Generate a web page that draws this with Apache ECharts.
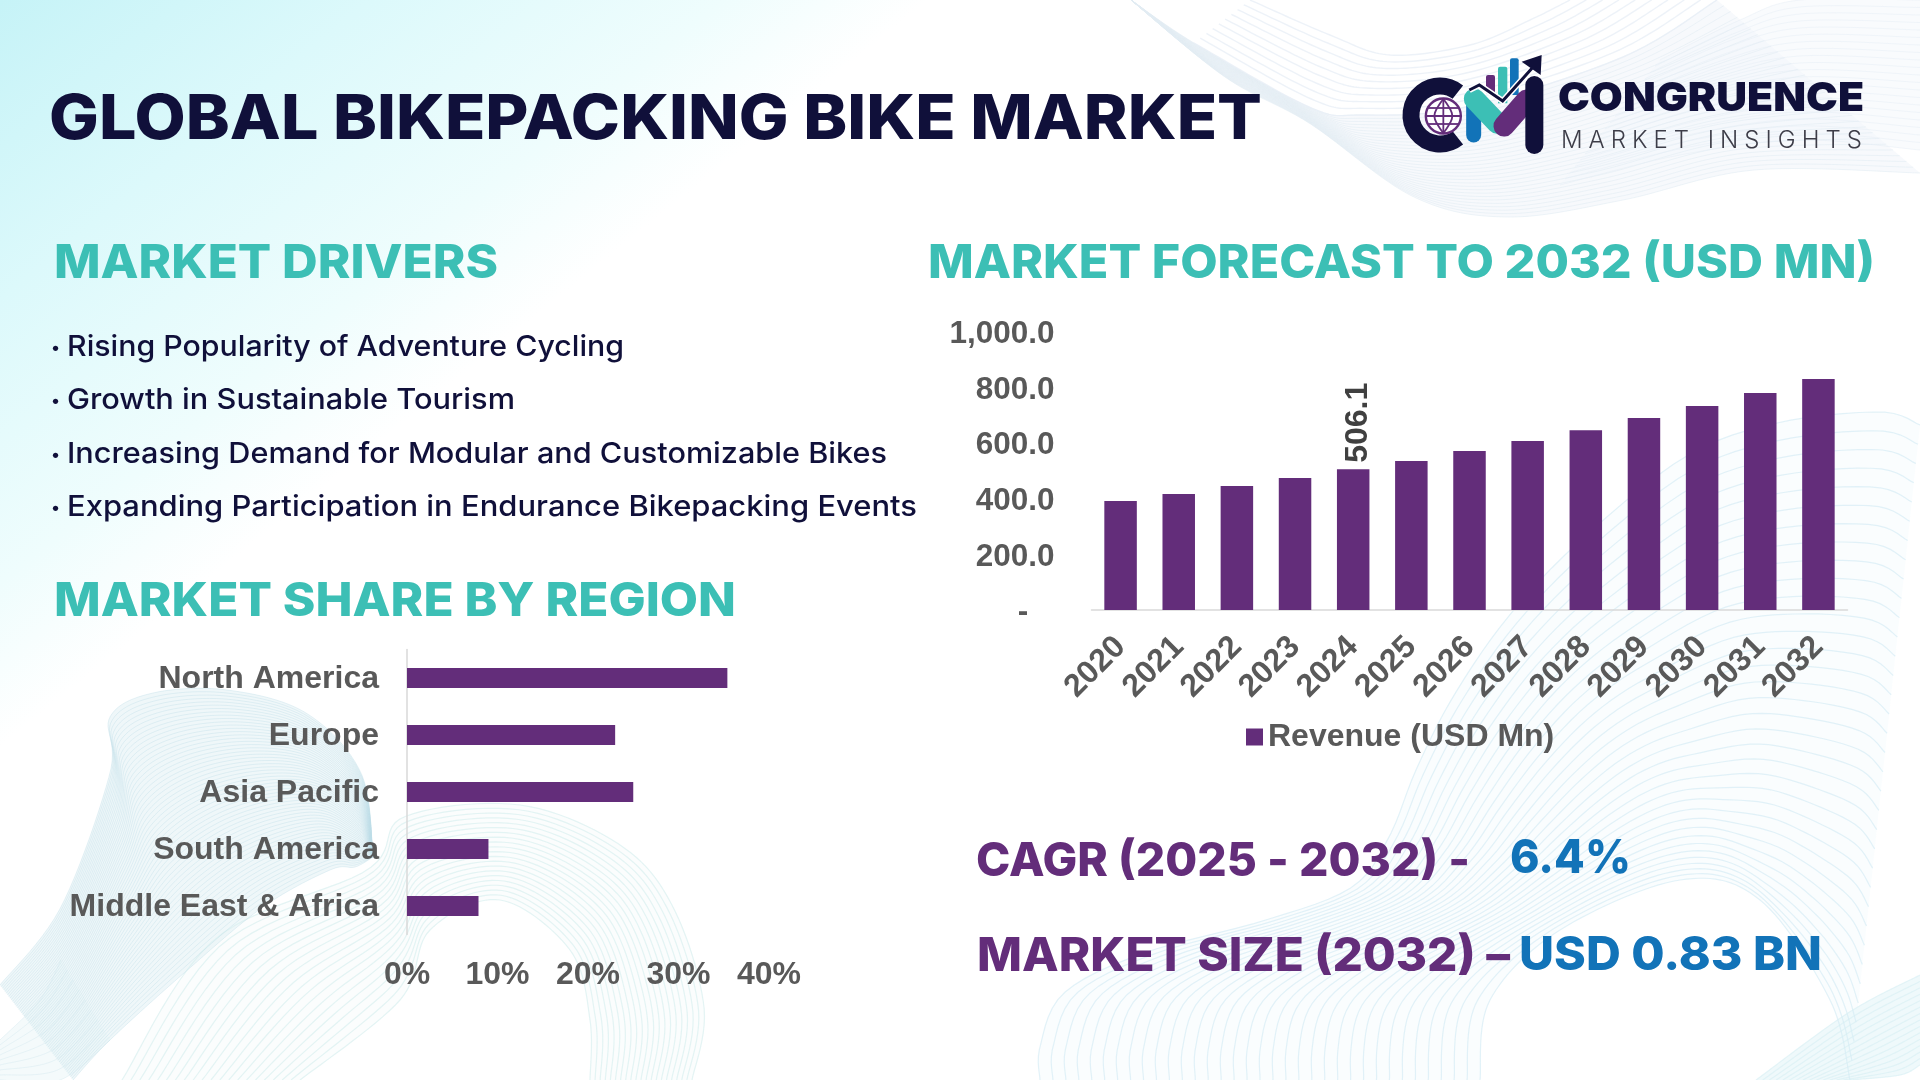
<!DOCTYPE html>
<html><head><meta charset="utf-8">
<style>html,body{margin:0;padding:0;background:#fff}#c{width:1920px;height:1080px;position:absolute;left:0;top:0}
#mi{position:absolute;left:1561px;top:126px;font:300 24px Inter,sans-serif;letter-spacing:6px;color:#3d3d48;white-space:nowrap;line-height:28px}</style>
<script src="https://cdn.jsdelivr.net/npm/echarts@6/dist/echarts.min.js"></script>
</head><body><div id="c"></div><div id="mi">MARKET INSIGHTS</div>
<script>
const years=['2020','2021','2022','2023','2024','2025','2026','2027','2028','2029','2030','2031','2032'];
const revenue=[392,417,446,475,506.1,536,572,608,647,691,734,781,831];
const regions=['North America','Europe','Asia Pacific','South America','Middle East & Africa'];
const shares=[35.4,23,25,9,7.9];
const drivers=['Rising Popularity of Adventure Cycling','Growth in Sustainable Tourism','Increasing Demand for Modular and Customizable Bikes','Expanding Participation in Endurance Bikepacking Events'];

const PURPLE='#632d7a',TEAL='#3cbfb5',BLUE='#1273b8',NAVY='#10103a',GREY='#595959';
const mctx=document.createElement('canvas').getContext('2d');
function T(text,x,y,w,size,weight,fill,family){
  family=family||'Inter';
  mctx.font=weight+' '+size+'px '+family;
  const sx=w?w/mctx.measureText(text).width:1;
  return {type:'text',x:x,y:y,scaleX:sx,z:5,silent:true,style:{text:text,x:0,y:0,fontFamily:family,fontSize:size,fontWeight:weight,fill:fill,align:'left',verticalAlign:'middle'}};
}
/* decoration helpers */
function spline(p,m){
  const out=[],n=p.length-1;
  for(let k=0;k<=m;k++){
    const u=k/m*n,i=Math.min(Math.floor(u),n-1),t=u-i;
    const a=p[Math.max(i-1,0)],b=p[i],c=p[i+1],d=p[Math.min(i+2,n)];
    const f=j=>0.5*((2*b[j])+(-a[j]+c[j])*t+(2*a[j]-5*b[j]+4*c[j]-d[j])*t*t+(-a[j]+3*b[j]-3*c[j]+d[j])*t*t*t);
    out.push([f(0),f(1)]);
  }
  return out;
}
function ribbon(A,B,n,stroke,alpha,lw,fill,fillAlpha){
  const a=spline(A,90),b=spline(B,90),els=[];
  if(fill)els.push({type:'polygon',silent:true,z:-9,shape:{points:a.concat(b.slice().reverse())},style:{fill:fill,opacity:fillAlpha}});
  for(let i=0;i<=n;i++){
    const t=i/n;
    els.push({type:'polyline',silent:true,z:-8,shape:{points:a.map((q,k)=>[q[0]+(b[k][0]-q[0])*t,q[1]+(b[k][1]-q[1])*t])},style:{stroke:stroke,lineWidth:lw,fill:null,opacity:alpha}});
  }
  return els;
}
const deco=[];
deco.push({type:'rect',silent:true,z:-10,shape:{x:0,y:0,width:1920,height:1080},style:{fill:{type:'linear',x:0,y:0,x2:0.19,y2:0.42,colorStops:[{offset:0,color:'#c6f3f7'},{offset:0.4,color:'#dcf9fb'},{offset:0.78,color:'#effdfd'},{offset:1,color:'#ffffff'}]}}});
/* top right */
deco.push(...ribbon([[1131,0],[1194,43],[1309,107],[1361,115],[1466,107],[1623,57],[1717,0]],[[1131,0],[1225,77],[1309,123],[1414,197],[1508,217],[1623,200],[1754,170],[1920,173]],30,'#e3ecf4',0.6,1,'#f3f7fb',0.7));
deco.push(...ribbon([[1194,43],[1309,107],[1361,115],[1466,107],[1623,57],[1717,0]],[[1250,0],[1330,35],[1390,55],[1470,45],[1530,20],[1570,0]],9,'#e8eff6',0.8,1.4));
deco.push(...ribbon([[1560,185],[1680,155],[1800,140],[1920,150]],[[1660,60],[1740,20],[1800,0],[1920,0]],20,'#e6eef5',0.5,1,'#f4f8fb',0.5));
/* bottom right hill */
deco.push(...ribbon([[1040,1080],[1040,1047],[1064,993],[1144,953],[1266,920],[1352,887],[1389,837],[1416,770],[1453,697],[1508,617],[1581,540],[1685,457],[1777,423],[1880,412],[1920,425]],[[1480,1080],[1490,1000],[1560,930],[1680,880],[1760,900],[1830,1000],[1850,1080]],34,'#d2eaf3',0.62,1.2,'#f6fbfd',0.6));
deco.push(...ribbon([[1756,1080],[1848,1013],[1920,975]],[[1850,1080],[1900,1075],[1920,1065]],14,'#d6eef4',0.6,1.2,'#e8f6f9',0.7));
/* bottom left */
deco.push(...ribbon([[122,1080],[214,940],[367,870],[404,817],[520,805],[620,845],[673,907],[704,1007],[692,1080]],[[300,1080],[400,1000],[430,930],[500,900],[570,950],[590,1020],[590,1080]],20,'#d8f0f0',0.7,1.2,'#f7fcfc',0.5));
deco.push(...ribbon([[0,985],[61,907],[110,773],[110,717],[153,693],[227,690],[306,713],[361,773],[373,857]],[[73,1080],[110,1040],[184,973],[263,907],[330,870],[355,867],[373,857]],58,'#bcdde8',0.38,1,'#e0eff4',0.5));
deco.push(...ribbon([[0,1040],[40,1000],[61,960]],[[0,1080],[60,1080],[110,1040]],8,'#cfe6ee',0.4,1,'#eaf5f8',0.5));

/* logo */
const Z=(x,y)=>[1380+x/3,40+y/3];
const seg=(a,b,w,c,cap)=>{const p=Z(a[0],a[1]),q=Z(b[0],b[1]);return {type:'line',silent:true,z:3,shape:{x1:p[0],y1:p[1],x2:q[0],y2:q[1]},style:{stroke:c,lineWidth:w,lineCap:cap||'round'}};};
const bar=(x0,x1,y0,y1,c)=>{const p=Z(x0,y0),q=Z(x1,y1);return {type:'rect',silent:true,z:3,shape:{x:p[0],y:p[1],width:q[0]-p[0],height:q[1]-p[1],r:[2,2,0,0]},style:{fill:c}};};
const ctr=Z(180,225),gl=Z(190,228),gr=17.5;
const logo=[
 {type:'arc',silent:true,z:3,shape:{cx:ctr[0],cy:ctr[1],r:29,startAngle:52*Math.PI/180,endAngle:308*Math.PI/180,clockwise:true},style:{stroke:NAVY,lineWidth:17,fill:null}},
 {type:'circle',silent:true,z:3,shape:{cx:gl[0],cy:gl[1],r:gr},style:{fill:'#fff',stroke:PURPLE,lineWidth:2.4}},
 {type:'line',silent:true,z:3,shape:{x1:gl[0]-gr,y1:gl[1],x2:gl[0]+gr,y2:gl[1]},style:{stroke:PURPLE,lineWidth:1.8}},
 {type:'line',silent:true,z:3,shape:{x1:gl[0]-gr*.85,y1:gl[1]-8,x2:gl[0]+gr*.85,y2:gl[1]-8},style:{stroke:PURPLE,lineWidth:1.8}},
 {type:'line',silent:true,z:3,shape:{x1:gl[0]-gr*.85,y1:gl[1]+8,x2:gl[0]+gr*.85,y2:gl[1]+8},style:{stroke:PURPLE,lineWidth:1.8}},
 {type:'line',silent:true,z:3,shape:{x1:gl[0],y1:gl[1]-gr,x2:gl[0],y2:gl[1]+gr},style:{stroke:PURPLE,lineWidth:1.8}},
 {type:'polyline',silent:true,z:3,shape:{points:spline([[gl[0],gl[1]-gr],[gl[0]-9,gl[1]],[gl[0],gl[1]+gr]],12)},style:{stroke:PURPLE,lineWidth:1.8,fill:null}},
 {type:'polyline',silent:true,z:3,shape:{points:spline([[gl[0],gl[1]-gr],[gl[0]+9,gl[1]],[gl[0],gl[1]+gr]],12)},style:{stroke:PURPLE,lineWidth:1.8,fill:null}},
 bar(318,345,105,160,PURPLE),bar(354,382,80,190,TEAL),bar(390,416,55,165,BLUE),
 seg([281,195],[281,285],15,BLUE),
 seg([283,177],[352,250],21,TEAL),
 seg([372,258],[440,180],21,PURPLE),
 seg([463,135],[463,315],18,NAVY),
 {type:'polyline',silent:true,z:3,shape:{points:[Z(268,150),Z(298,135),Z(368,183),Z(460,80)]},style:{stroke:'#fff',lineWidth:6,fill:null}},
 {type:'polyline',silent:true,z:3,shape:{points:[Z(268,150),Z(298,135),Z(368,183),Z(460,80)]},style:{stroke:NAVY,lineWidth:3,fill:null}},
 {type:'polygon',silent:true,z:3,shape:{points:[Z(425,65),Z(485,45),Z(482,105)]},style:{fill:NAVY}},
];
const dots=[346,399,453,506].map((y,i)=>T('•',51,y+1.5,0,17,500,NAVY));
const texts=[
 T('GLOBAL BIKEPACKING BIKE MARKET',49,120,1213,62,800,NAVY),
 T('MARKET DRIVERS',54,263.5,444,47,800,TEAL),
 T('MARKET FORECAST TO 2032 (USD MN)',928,263.5,947,47,800,TEAL),
 T('MARKET SHARE BY REGION',54,601.5,682,47,800,TEAL),
 T(drivers[0],67,347.5,557,29,500,NAVY),
 T(drivers[1],67,400.5,448,29,500,NAVY),
 T(drivers[2],67,454.5,820,29,500,NAVY),
 T(drivers[3],67,507.5,850,29,500,NAVY),
 T('CAGR (2025 - 2032) -',976,862,494,47,800,PURPLE),
 T('6.4%',1510,859,121,47,800,BLUE),
 T('MARKET SIZE (2032) –',977,957,533,47,800,PURPLE),
 T('USD 0.83 BN',1519,956,303,47,800,BLUE),
 T('CONGRUENCE',1558,99,306,40,900,NAVY),
];
const FONT='"Liberation Sans"';
const rich=(size,top)=>({a:{color:GREY,fontFamily:FONT,fontWeight:'bold',fontSize:size,padding:[top,0,0,0]}});
const chart=echarts.init(document.getElementById('c'));
chart.setOption({
 backgroundColor:'#fff',animation:false,
 graphic:{elements:deco.concat(logo,dots,texts)},
 legend:{data:['Revenue (USD Mn)'],left:1241,top:716,itemWidth:17,itemHeight:17,itemGap:10,icon:'rect',textStyle:{color:GREY,fontFamily:FONT,fontWeight:'bold',fontSize:32}},
 grid:[
  {left:1091.5,top:332,width:756,height:278},
  {left:407,top:649.5,width:362,height:285}
 ],
 xAxis:[
  {type:'category',gridIndex:0,data:years,axisTick:{show:false},axisLine:{lineStyle:{color:'#d9d9d9',width:1.5}},axisLabel:{rotate:45,interval:0,margin:32,color:GREY,fontFamily:FONT,fontWeight:'bold',fontSize:32}},
  {type:'value',gridIndex:1,min:0,max:40,interval:10,splitLine:{show:false},axisLine:{show:false},axisTick:{show:false},axisLabel:{margin:25,color:GREY,fontFamily:FONT,fontWeight:'bold',fontSize:32,formatter:'{value}%'}}
 ],
 yAxis:[
  {type:'value',gridIndex:0,min:0,max:1000,interval:200,splitLine:{show:false},axisLine:{show:false},axisTick:{show:false},axisLabel:{margin:37,rich:rich(31.5,5),formatter:v=>'{a|'+(v===0?'-   ':v.toLocaleString('en-US',{minimumFractionDigits:1,maximumFractionDigits:1}))+'}'}},
  {type:'category',gridIndex:1,inverse:true,data:regions,axisTick:{show:false},axisLine:{lineStyle:{color:'#d9d9d9',width:1.5}},axisLabel:{margin:28,rich:rich(32,3),formatter:v=>'{a|'+v+'}'}}
 ],
 series:[
  {name:'Revenue (USD Mn)',type:'bar',xAxisIndex:0,yAxisIndex:0,barWidth:32.5,itemStyle:{color:PURPLE},
   data:revenue.map((v,i)=>years[i]==='2024'?{value:v,label:{show:true,position:'top',rotate:90,align:'left',verticalAlign:'middle',distance:1,offset:[5.5,5],color:'#404040',fontFamily:FONT,fontWeight:'bold',fontSize:32,formatter:'{c}'}}:v)},
  {name:'Share',type:'bar',xAxisIndex:1,yAxisIndex:1,barWidth:20,itemStyle:{color:PURPLE},data:shares}
 ]
});
</script></body></html>
